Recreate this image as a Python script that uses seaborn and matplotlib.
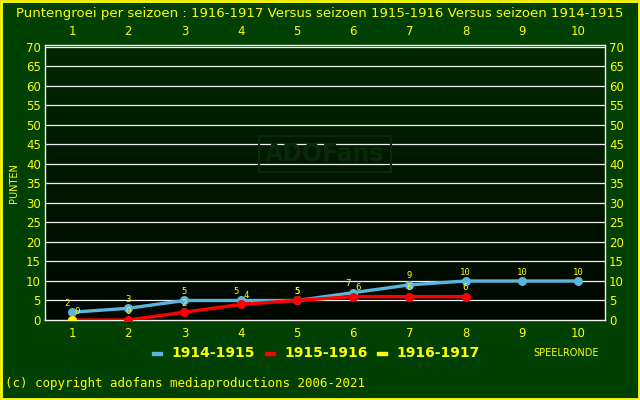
import matplotlib
matplotlib.use("Agg")
import matplotlib.pyplot as plt
import seaborn as sns
import numpy as np
import pandas as pd
from matplotlib.patches import Rectangle
from matplotlib.colors import LinearSegmentedColormap

rounds = list(range(1, 11))
s1914 = [2, 3, 5, 5, 5, 7, 9, 10, 10, 10]
s1915 = [0, 0, 2, 4, 5, 6, 6, 6]
s1916 = [0]
series_names = ["1914-1915", "1915-1916", "1916-1917"]
yticks = list(range(0, 75, 5))

rows = []
for name, vals in zip(series_names, [s1914, s1915, s1916]):
    for r, v in zip(rounds, vals):
        rows.append({"ronde": r, "punten": v, "seizoen": name})
df = pd.DataFrame(rows)

sns.set_style("white")
plt.rcParams['font.family'] = ['DejaVu Sans']

BG = "#004000"
YEL = "#ffff00"
colors = {"1914-1915": "#5ab4dc", "1915-1916": "#ff0000", "1916-1917": "#ffff00"}

fig = plt.figure(figsize=(6.4, 4.0), dpi=100, facecolor=BG)
fig.patches.append(Rectangle((0.001, 0.002), 0.997, 0.996, transform=fig.transFigure,
                             fill=False, edgecolor=YEL, linewidth=2.0, zorder=10))
ax = fig.add_axes([45/640, 80/400, 560/640, 275/400])
ax.set_xlim(0.52, 10.48)
ax.set_ylim(0, 70.5)

grad = np.linspace(0, 1, 256).reshape(-1, 1)
cmap = LinearSegmentedColormap.from_list("g", ["#000600", "#002800"])
ax.imshow(grad, extent=[0.52, 10.48, 0, 70.5], origin="lower", aspect="auto",
          cmap=cmap, zorder=0)

for y in yticks[1:]:
    ax.axhline(y, color="#f0f0f0", lw=0.9, zorder=1)

ax.text(5.5, 42.5, "ADOFans", fontsize=17, fontweight="bold", color="#092a09",
        ha="center", va="center", zorder=1,
        bbox=dict(boxstyle="square,pad=0.25", fc="none", ec="#092a09", lw=1.5))

for name in series_names:
    sub = df[df.seizoen == name]
    sns.lineplot(data=sub, x="ronde", y="punten", ax=ax, color=colors[name],
                 linewidth=2.4, marker="o", markersize=6.5, markeredgewidth=0,
                 zorder=3, legend=False)

lab = {}
for name in series_names:
    sub = df[df.seizoen == name]
    for r, v in zip(sub.ronde, sub.punten):
        lab.setdefault(r, []).append((name, v))
for r, items in lab.items():
    for name, v in items:
        dx = 0.0
        others = [w for n2, w in items if n2 != name]
        if any(0 < abs(w - v) < 2.5 for w in others):
            dx = -0.09 if v == max([v] + others) else 0.09
        if name == "1916-1917" and (r, v) == (1, 0):
            continue
        ax.text(r + dx, v + 2.3, str(v), color=YEL, fontsize=6.5, ha="center",
                va="center", family="DejaVu Sans Mono", zorder=5)

ax.set_xlabel("")
ax.set_ylabel("")
ax.set_xticks(rounds)
ax.set_yticks(yticks)
ax.tick_params(axis="both", colors=YEL, labelsize=8.5, length=0, pad=5,
               labelcolor=YEL)
ax.tick_params(axis="x", top=True, labeltop=True, bottom=True, labelbottom=True)
ax.tick_params(axis="y", left=True, labelleft=True, right=True, labelright=True, pad=3)
for s in ax.spines.values():
    s.set_color("#f0f0f0")
    s.set_linewidth(1.0)

fig.text(320/640, 1 - 14/400, "Puntengroei per seizoen : 1916-1917 Versus seizoen 1915-1916 Versus seizoen 1914-1915",
         color=YEL, fontsize=9.5, ha="center", va="center")
fig.text(14/640, 1 - 183/400, "PUNTEN", color=YEL, fontsize=7, rotation=90,
         ha="center", va="center")
fig.text(566/640, 1 - 353/400, "SPEELRONDE", color=YEL, fontsize=7,
         ha="center", va="center")
fig.text(5/640, 1 - 384/400, "(c) copyright adofans mediaproductions 2006-2021",
         color=YEL, fontsize=9, ha="left", va="center", family="DejaVu Sans Mono")

leg_x = [152, 265, 377]
for name, lx in zip(series_names, leg_x):
    fig.patches.append(Rectangle((lx/640, 1 - 355/400), 10/640, 3/400,
                                 transform=fig.transFigure, color=colors[name]))
    fig.text((lx + 19)/640, 1 - 353/400, name, color=YEL, fontsize=10,
             fontweight="bold", ha="left", va="center")

fig.savefig("out.png", dpi=100, facecolor=BG)
